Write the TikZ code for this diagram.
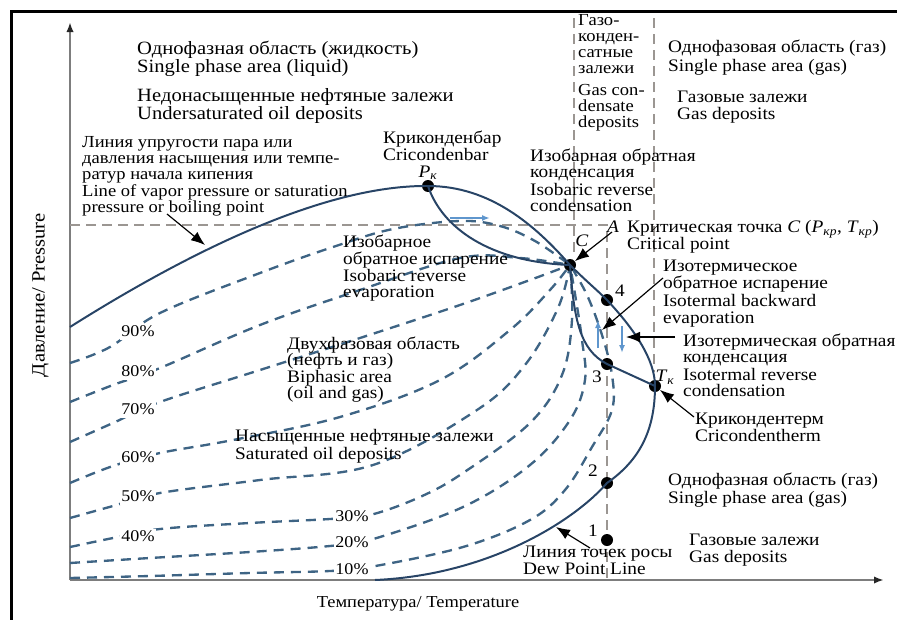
\documentclass[tikz,border=0pt]{standalone}
\usepackage{fontspec}
\setmainfont[FakeStretch=1.1]{Liberation Serif}
\usetikzlibrary{arrows.meta}
\definecolor{navy}{RGB}{40,68,102}
\definecolor{qline}{RGB}{62,100,132}
\definecolor{gdash}{RGB}{155,150,146}
\definecolor{axisgray}{RGB}{125,125,125}
\definecolor{lblue}{RGB}{95,150,205}
\begin{document}
\begin{tikzpicture}[x=0.3mm,y=-0.3mm,
  t/.style={anchor=west,inner sep=0pt,text height=0.9em,text depth=0.1em,font=\fontsize{15}{17}\selectfont},
  tl/.style={t,font=\fontsize{16}{18}\selectfont},
  ts/.style={anchor=west,inner sep=0pt,text height=0.75em,text depth=0.1em,font=\fontsize{14.4}{16}\selectfont},
  tc/.style={inner sep=0pt,text height=0.9em,text depth=0.1em,font=\fontsize{15}{17}\selectfont},
  pct/.style={inner sep=1.5pt,fill=white,text height=0.9em,text depth=0.1em,font=\fontsize{14}{16}\selectfont},
  dot/.style={circle,fill=black,inner sep=0pt,minimum size=3.6mm},
  env/.style={draw=navy,line width=1.7pt},
  qd/.style={draw=qline,line width=2pt,dash pattern=on 3mm off 2.1mm},
  gd/.style={draw=gdash,line width=2.2pt,dash pattern=on 3mm off 1.8mm},
  axis/.style={draw=axisgray,line width=1.8pt,-{Latex[length=3mm,width=2.2mm,color=black!85]}},
  ann/.style={draw=black,line width=1pt,-{Latex[length=4.2mm,width=3.2mm]}},
  lb/.style={draw=lblue,line width=1.6pt,-{Latex[length=2.4mm,width=1.8mm]}}]
\useasboundingbox (0,0) rectangle (897,620);
% frame
\draw[line width=0.9mm] (11,620) -- (11,11) -- (897,11);
% axes
\coordinate (O) at (70,580);
\coordinate (ytop) at (70,22);
\coordinate (xend) at (884,580);
\draw[axis] (O) -- (ytop);
\draw[axis] (O) -- (xend);
% gray dashed guides
\coordinate (hA) at (70,225);
\coordinate (A) at (607,225);
\coordinate (v1t) at (574,18);
\coordinate (v1b) at (574,258);
\coordinate (v2t) at (654,18);
\coordinate (v2b) at (654,372);
\coordinate (v3b) at (607,580);
\draw[gd] (hA) -- (A) -- (v3b);
\draw[gd] (v1t) -- (v1b);
\draw[gd] (v2t) -- (v2b);
% quality lines
\draw[qd] plot[smooth,tension=0.6] coordinates {(70,363) (110,347) (160,313) (260,273) (333,247) (393,229) (460,221) (500,226) (535,241) (570,265)};
\draw[qd] plot[smooth,tension=0.6] coordinates {(70,402) (113,385) (160,368) (260,325) (360,290) (460,258) (520,258) (570,265)};
\draw[qd] plot[smooth,tension=0.6] coordinates {(70,442) (113,423) (160,402) (260,370) (360,338) (460,305) (530,280) (570,265)};
\draw[qd] plot[smooth,tension=0.6] coordinates {(70,483) (113,466) (160,453) (233,440) (340,417) (440,380) (510,330) (550,290) (570,265)};
\draw[qd] plot[smooth,tension=0.6] coordinates {(70,518) (113,506) (160,493) (260,480) (373,465) (477,410) (525,365) (558,308) (570,265)};
\draw[qd] plot[smooth,tension=0.6] coordinates {(70,547) (113,538) (160,529) (250,523) (330,519) (370,515) (420,497) (463,473) (530,423) (562,375) (572,320) (570,265)};
\draw[qd] plot[smooth,tension=0.6] coordinates {(70,563) (150,558) (250,552) (330,546) (370,540) (463,507) (530,465) (570,420) (585,380) (582,340) (576,300) (570,265)};
\draw[qd] plot[smooth,tension=0.6] coordinates {(70,578) (150,576) (250,573) (330,571) (370,567) (463,547) (530,520) (565,490) (592,447) (612,410) (612,375) (602,335) (587,295) (570,265)};
% key points
\node[dot] (Pk) at (428,186) {};
\node[dot] (C) at (570,265) {};
\node[dot] (p4) at (607,300) {};
\node[dot] (p3) at (607,364) {};
\node[dot] (Tk) at (655,386) {};
\node[dot] (p2) at (607,483) {};
\node[dot] (p1) at (607,540) {};
\coordinate (b0) at (70,327);
\coordinate (dend) at (375,580);
% envelope
\draw[env] (b0) .. controls (200,245) and (330,185) .. (Pk.center);
\draw[env] (Pk.center) .. controls (490,186) and (535,225) .. (C.center)
  .. controls (585,280) and (597,290) .. (p4.center)
  .. controls (635,330) and (655,360) .. (Tk.center)
  .. controls (655,430) and (640,460) .. (p2.center)
  .. controls (575,520) and (490,575) .. (dend);
\draw[env] (Pk.center) .. controls (442,228) and (490,262) .. (C.center);
\draw[env] (C.center) .. controls (574,320) and (580,350) .. (p3.center) -- (Tk.center);
% light blue arrows
\coordinate (ib1) at (450,218);
\coordinate (ib2) at (490,218);
\draw[lb] (ib1) -- (ib2);
\coordinate (ua1) at (598,348);
\coordinate (ua2) at (598,320);
\draw[lb] (ua1) -- (ua2);
\coordinate (da1) at (622,326);
\coordinate (da2) at (622,353);
\draw[lb] (da1) -- (da2);
% labels
\node[tl] (liq1) at (137,50) {Однофазная область (жидкость)};
\node[tl] (liq2) at (137,68) {Single phase area (liquid)};
\node[tl] (und1) at (137,97) {Недонасыщенные нефтяные залежи};
\node[tl] (und2) at (137,115) {Undersaturated oil deposits};
\node[ts] (vap1) at (82,144) {Линия упругости пара или};
\node[ts] (vap2) at (82,160) {давления насыщения или темпе-};
\node[ts] (vap3) at (82,176) {ратур начала кипения};
\node[ts] (vap4) at (82,193) {Line of vapor pressure or saturation};
\node[ts] (vap5) at (82,209) {pressure or boiling point};
\node[t] (cb1) at (383,139) {Криконденбар};
\node[t] (cb2) at (383,156) {Cricondenbar};
\node[inner sep=0pt,text height=0.72em,text depth=0pt,font=\fontsize{15}{17}\selectfont] (Pkl) at (428,173) {\textit{P}\textsubscript{\textit{к}}};
\node[ts] (gc1) at (578,22) {Газо-};
\node[ts] (gc2) at (578,38) {конден-};
\node[ts] (gc3) at (578,54) {сатные};
\node[ts] (gc4) at (578,70) {залежи};
\node[ts] (gc5) at (578,92) {Gas con-};
\node[ts] (gc6) at (578,108) {densate};
\node[ts] (gc7) at (578,124) {deposits};
\node[t] (gs1) at (668,48) {Однофазовая область (газ)};
\node[t] (gs2) at (668,67) {Single phase area (gas)};
\node[t] (gd1) at (677,98) {Газовые залежи};
\node[t] (gd2) at (677,115) {Gas deposits};
\node[t] (irc1) at (530,157) {Изобарная обратная};
\node[t] (irc2) at (530,173) {конденсация};
\node[t] (irc3) at (530,191) {Isobaric reverse};
\node[t] (irc4) at (530,207) {condensation};
\node[tc] (Al) at (613,228) {\textit{A}};
\node[t] (cp1) at (627,228) {Критическая точка \textit{C} (\textit{P}\textsubscript{\textit{кр}}, \textit{T}\textsubscript{\textit{кр}})};
\node[t] (cp2) at (627,245) {Critical point};
\node[tc] (Cl) at (582,242) {\textit{C}};
\node[t] (ire1) at (343,243) {Изобарное};
\node[t] (ire2) at (343,260) {обратное испарение};
\node[t] (ire3) at (343,277) {Isobaric reverse};
\node[t] (ire4) at (343,293) {evaporation};
\node[t] (itb1) at (663,267) {Изотермическое};
\node[t] (itb2) at (663,284) {обратное испарение};
\node[t] (itb3) at (663,302) {Isotermal backward};
\node[t] (itb4) at (663,319) {evaporation};
\node[t] (itc1) at (683,342) {Изотермическая обратная};
\node[t] (itc2) at (683,358) {конденсация};
\node[t] (itc3) at (683,376) {Isotermal reverse};
\node[t] (itc4) at (683,392) {condensation};
\node[tc] (Tkl) at (665,377) {\textit{T}\textsubscript{\textit{к}}};
\node[t] (ct1) at (695,420) {Крикондентерм};
\node[t] (ct2) at (695,437) {Cricondentherm};
\node[t] (bi1) at (287,345) {Двухфазовая область};
\node[t] (bi2) at (287,361) {(нефть и газ)};
\node[t] (bi3) at (287,378) {Biphasic area};
\node[t] (bi4) at (287,394) {(oil and gas)};
\node[t] (so1) at (235,437) {Насыщенные нефтяные залежи};
\node[t] (so2) at (235,455) {Saturated oil deposits};
\node[t] (gb1) at (668,481) {Однофазная область (газ)};
\node[t] (gb2) at (668,499) {Single phase area (gas)};
\node[t] (gdb1) at (689,541) {Газовые залежи};
\node[t] (gdb2) at (689,558) {Gas deposits};
\node[t] (dp1) at (523,553) {Линия точек росы};
\node[t] (dp2) at (523,570) {Dew Point Line};
\node[pct] (c90) at (138,332) {90\%};
\node[pct] (c80) at (138,372) {80\%};
\node[pct] (c70) at (138,410) {70\%};
\node[pct] (c60) at (138,458) {60\%};
\node[pct] (c50) at (138,497) {50\%};
\node[pct] (c40) at (138,537) {40\%};
\node[pct] (c30) at (352,517) {30\%};
\node[pct] (c20) at (352,543) {20\%};
\node[pct] (c10) at (352,570) {10\%};
\node[tc] (n4) at (620,292) {4};
\node[tc] (n3) at (597,378) {3};
\node[tc] (n2) at (593,472) {2};
\node[tc] (n1) at (593,532) {1};
\node[tc,font=\fontsize{14.3}{16}\selectfont] (xl) at (418,603) {Температура/ Temperature};
\node[tc,rotate=90,font=\fontsize{16}{18}\selectfont] (yl) at (40,295) {Давление/ Pressure};
% annotation arrows
\coordinate (a1s) at (167,214);
\coordinate (a1e) at (205,245);
\draw[ann] (a1s) -- (a1e);
\coordinate (a2s) at (612,232);
\draw[ann] (a2s) -- (C);
\coordinate (a3s) at (663,278);
\coordinate (a3e) at (602,330);
\draw[ann] (a3s) -- (a3e);
\coordinate (a4s) at (675,337);
\coordinate (a4e) at (626,337);
\draw[ann] (a4s) -- (a4e);
\coordinate (a5s) at (694,417);
\draw[ann] (a5s) -- (Tk);
\coordinate (a6s) at (590,548);
\coordinate (a6e) at (556,527);
\draw[ann] (a6s) -- (a6e);
\end{tikzpicture}
\end{document}
